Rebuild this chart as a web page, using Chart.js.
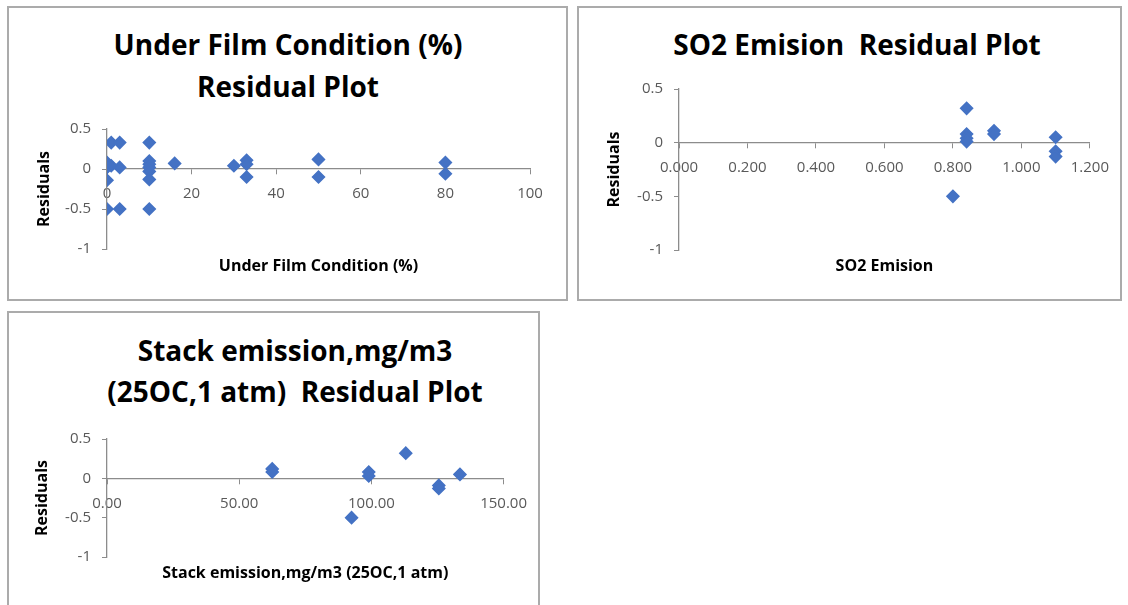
<!DOCTYPE html>
<html>
<head>
<meta charset="utf-8">
<title>Residual Plots</title>
<script src="https://cdn.jsdelivr.net/npm/chart.js@4.4.1/dist/chart.umd.min.js"></script>
<style>
  body { margin: 0; width: 1128px; height: 605px; overflow: hidden; position: relative; background: #fff; font-family: "Open Sans", Lato, sans-serif; }
  .panel { position: absolute; box-sizing: border-box; border: 2px solid #ababab; background: #fff; }
  .panel canvas { position: absolute; left: 0; top: 0; }
  .ttl { position: absolute; transform: translateX(-50%); white-space: pre; text-align: center; font-weight: bold; font-size: 28px; line-height: 42px; color: #000; }
</style>
</head>
<body>

<div class="panel" id="p1" style="left:7px; top:6px; width:561px; height:295px;">
  <div class="ttl" style="left:279px; top:15px;">Under Film Condition (%)<br>Residual Plot</div>
  <canvas id="filmChart"></canvas>
</div>

<div class="panel" id="p2" style="left:577px; top:6px; width:545px; height:295px;">
  <div class="ttl" style="left:278px; top:15px;">SO2 Emision  Residual Plot</div>
  <canvas id="so2Chart"></canvas>
</div>

<div class="panel" id="p3" style="left:7px; top:311px; width:533px; height:300px;">
  <div class="ttl" style="left:286px; top:17px; line-height:41px;">Stack emission,mg/m3<br>(25OC,1 atm)  Residual Plot</div>
  <canvas id="stackChart"></canvas>
</div>

<script>
'use strict'

// residual tick labels shared by all three plots
let residTicks = ['-1', '-0.5', '0', '0.5'];

// Under Film Condition (%)
let filmX = [0, 0, 0, 0, 1, 1, 3, 3, 3, 10, 10, 10, 10, 10, 10, 10, 16, 30, 33, 33, 33, 50, 50, 80, 80];
let filmResid = [0.08, 0.02, -0.14, -0.5, 0.33, 0.04, 0.33, 0.02, -0.5, 0.33, 0.1, 0.06, 0.02, -0.03, -0.13, -0.5, 0.07, 0.04, 0.11, 0.06, -0.1, 0.12, -0.1, 0.08, -0.06];
let filmTicks = ['0', '20', '40', '60', '80', '100'];

// SO2 Emision
let so2X = [0.84, 0.84, 0.84, 0.84, 0.92, 0.92, 1.10, 1.10, 1.10, 0.80];
let so2Resid = [0.32, 0.08, 0.04, 0.01, 0.11, 0.08, 0.05, -0.08, -0.13, -0.5];
let so2Ticks = ['0.000', '0.200', '0.400', '0.600', '0.800', '1.000', '1.200'];

// Stack emission,mg/m3 (25OC,1 atm)
let stackX = [62.5, 62.5, 99, 99, 113, 125.5, 125.5, 133.5, 92.5];
let stackResid = [0.12, 0.08, 0.08, 0.03, 0.32, -0.09, -0.13, 0.05, -0.5];
let stackTicks = ['0.00', '50.00', '100.00', '150.00'];

let axisGray = '#8c8c8c';
let tickColor = '#595959';
let markBlue = '#4472C4';
let fontName = 'Open Sans';

function residualPlot(id, w, h, xs, ys, xMax, xStep, xLabels, xTitle, box) {
    let canvas = document.getElementById(id);
    canvas.width = w;
    canvas.height = h;
    canvas.style.width = w + 'px';
    canvas.style.height = h + 'px';

    let pts = [];
    for (let i = 0; i < xs.length; i++) {
        pts.push({ x: xs[i], y: ys[i] });
    }

    return new Chart(canvas.getContext('2d'), {
        type: 'scatter',
        data: {
            datasets: [{
                label: 'Residuals',
                data: pts,
                pointStyle: 'rectRot',
                pointRadius: 6,
                pointHoverRadius: 6,
                backgroundColor: markBlue,
                borderColor: markBlue,
                borderWidth: 1.5
            }]
        },
        options: {
            responsive: false,
            animation: false,
            layout: { padding: { top: box.top, right: box.right, bottom: 0, left: 0 } },
            plugins: { legend: { display: false }, tooltip: { enabled: false } },
            scales: {
                // x axis crosses the residual axis at 0
                x: {
                    type: 'linear',
                    position: { y: 0 },
                    min: 0,
                    max: xMax,
                    border: { display: true, color: axisGray, width: 1.3 },
                    grid: { drawOnChartArea: false, drawTicks: true, tickLength: 5, color: axisGray },
                    ticks: {
                        stepSize: xStep,
                        padding: 11,
                        color: tickColor,
                        font: { family: fontName, size: 15 },
                        maxRotation: 0,
                        callback: function (v, i) { return xLabels[i]; }
                    }
                },
                // empty bottom axis that only carries the x title
                xTitle: {
                    type: 'linear',
                    position: 'bottom',
                    ticks: { display: false },
                    grid: { display: false },
                    border: { display: false },
                    title: {
                        display: true,
                        text: xTitle,
                        color: '#000',
                        font: { family: fontName, size: 16, weight: 'bold' },
                        padding: { top: 0, bottom: box.xTitlePad }
                    },
                    afterFit: function (s) { s.height = box.bottomH; }
                },
                y: {
                    type: 'linear',
                    position: 'left',
                    min: -1,
                    max: 0.5,
                    border: { display: true, color: axisGray, width: 1.3 },
                    grid: { drawOnChartArea: false, drawTicks: true, tickLength: 5, color: axisGray },
                    ticks: {
                        stepSize: 0.5,
                        padding: 11,
                        color: tickColor,
                        font: { family: fontName, size: 15 },
                        callback: function (v, i) { return residTicks[i]; }
                    },
                    title: {
                        display: true,
                        text: 'Residuals',
                        color: '#000',
                        font: { family: fontName, size: 16, weight: 'bold' },
                        padding: { top: box.yTitlePad, bottom: 0 }
                    },
                    afterFit: function (s) { s.width = box.leftW; }
                }
            }
        }
    });
}

residualPlot('filmChart', 557, 291, filmX, filmResid, 100, 20, filmTicks, 'Under Film Condition (%)',
    { top: 121, right: 36, leftW: 98, bottomH: 50, xTitlePad: 23, yTitlePad: 26 });

residualPlot('so2Chart', 541, 291, so2X, so2Resid, 1.2, 0.2, so2Ticks, 'SO2 Emision',
    { top: 81, right: 28, leftW: 100, bottomH: 49, xTitlePad: 23, yTitlePad: 26 });

residualPlot('stackChart', 529, 292, stackX, stackResid, 150, 50, stackTicks, 'Stack emission,mg/m3 (25OC,1 atm)',
    { top: 126, right: 21, leftW: 98, bottomH: 48, xTitlePad: 22, yTitlePad: 24 });
</script>
</body>
</html>
